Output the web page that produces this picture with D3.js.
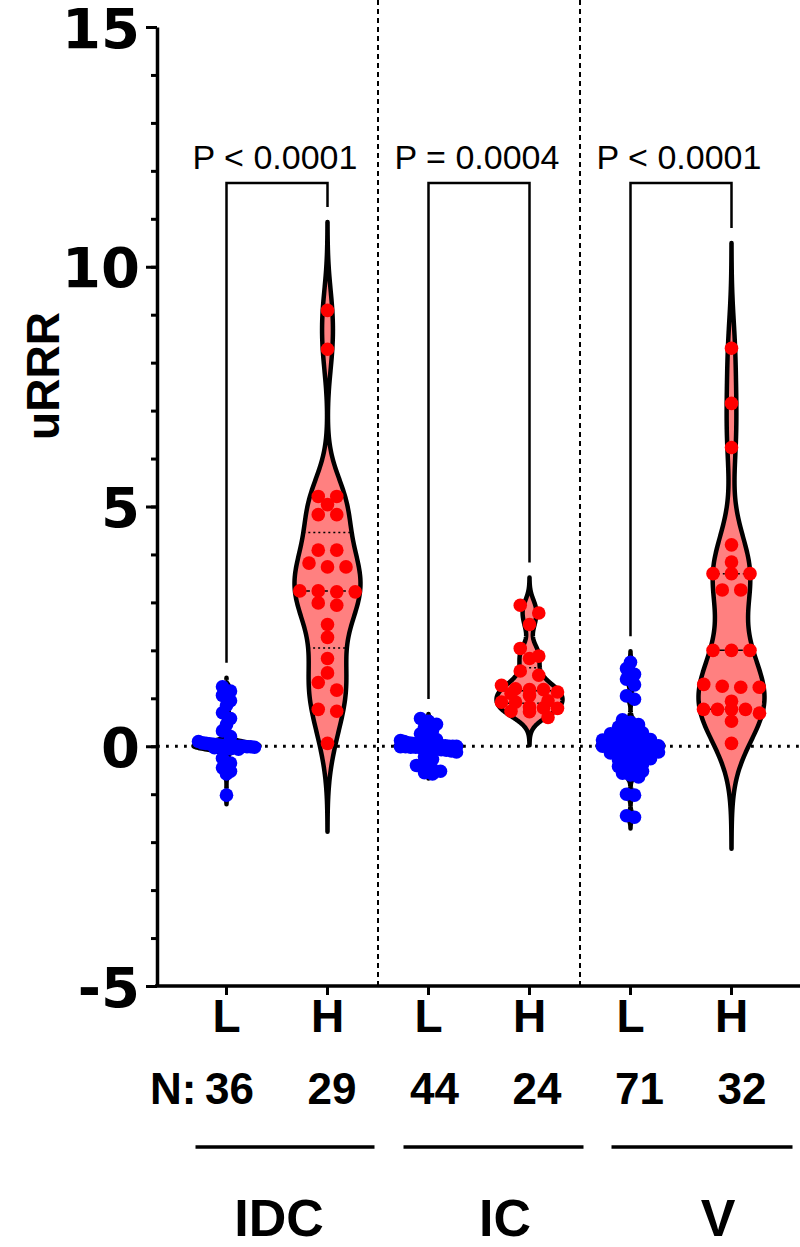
<!DOCTYPE html>
<html>
<head>
<meta charset="utf-8">
<script src="https://cdn.jsdelivr.net/npm/d3@7"></script>
<style>
  body { margin: 0; background: #fff; }
  text { fill: #000; }
</style>
</head>
<body>
<svg id="chart" width="800" height="1247"></svg>
<script>
// categories
const groups = ["IDC", "IC", "V"];
const levels = ["L", "H"];
const nCounts = [36, 29, 44, 24, 71, 32];
const pLabels = ["P < 0.0001", "P = 0.0004", "P < 0.0001"];
const yTicks = [-5, 0, 5, 10, 15];

// values (uRRR)
const idcL = [1.24, 1.15, 1.06, 0.95, 0.85, 0.70, 0.58, 0.45, 0.32, 0.20,
  0.10, 0.07, 0.06, 0.05, 0.04, 0.03, 0.02, 0.02, 0.01, 0.01, 0.00, 0.00, 0.00, -0.01, -0.01, -0.02, -0.03, -0.04, -0.05, -0.06,
  -0.25, -0.35, -0.45, -0.52, -0.58, -1.02];
const idcH = [9.09, 8.28, 5.21, 5.21, 5.04, 4.83, 4.83, 4.09, 4.09, 3.82, 3.74, 3.74, 3.24, 3.24, 3.22, 3.22, 2.99, 2.94,
  2.54, 2.27, 1.83, 1.53, 1.33, 1.17, 0.77, 0.73, 0.06];
const icL = [0.58, 0.52, 0.46, 0.40, 0.33, 0.26,
  0.16, 0.14, 0.12, 0.10, 0.07, 0.06, 0.05, 0.05, 0.04, 0.03, 0.03, 0.02, 0.02, 0.01, 0.01, 0.00, 0.00, 0.00,
  -0.01, -0.01, -0.02, -0.02, -0.03, -0.04, -0.05, -0.06, -0.07, -0.08, -0.10, -0.12,
  -0.22, -0.27, -0.40, -0.44, -0.48, -0.52, -0.55, -0.58];
const icH = [2.94, 2.78, 2.54, 2.04, 1.88, 1.83, 1.57, 1.48, 1.27, 1.20, 1.18, 1.18, 1.13, 1.10, 1.06, 0.95, 0.92, 0.92,
  0.82, 0.80, 0.79, 0.73, 0.72, 0.60];
const vL = [1.75, 1.62, 1.50, 1.40, 1.28, 1.05, 0.98,
  0.55, 0.50, 0.45, 0.40, 0.35,
  0.30, 0.28, 0.26, 0.24, 0.20, 0.18, 0.16, 0.14, 0.13,
  0.10, 0.09, 0.08, 0.07, 0.06, 0.05, 0.05, 0.04,
  0.03, 0.02, 0.02, 0.01, 0.01, 0.00, 0.00, 0.00, 0.00, -0.01, -0.01, -0.02, -0.02, -0.03,
  -0.04, -0.05, -0.06, -0.07, -0.08, -0.09,
  -0.12, -0.14, -0.16, -0.18, -0.22, -0.24, -0.26, -0.28,
  -0.32, -0.35, -0.38, -0.42, -0.45, -0.48, -0.52, -0.56, -0.60, -0.64,
  -1.00, -1.02, -1.45, -1.48];
const vH = [8.30, 7.15, 6.23, 4.20, 3.84, 3.60, 3.60, 3.60, 3.26, 3.26, 2.00, 2.00, 2.00, 1.29, 1.25, 1.23, 1.23, 0.94,
  0.77, 0.77, 0.77, 0.77, 0.69, 0.52, 0.06];

const series = [idcL, idcH, icL, icH, vL, vH];

// 样式
const dotColor = {L: "#0000ff", H: "#ff0000"};
const violinFill = {L: "#8080ff", H: "#ff8080"};
const rowPx = {L: 6, H: 8};      // 散点分行高度
const rowGap = {L: 8, H: 18.5};  // 行内点间距
const fontBold = "'Liberation Sans', Arial, sans-serif";
const fontTick = "'DejaVu Sans', sans-serif";

const svg = d3.select("#chart");
const keys = series.map((s, i) => i);

const x = d3.scaleBand().domain(keys).range([176, 782]);
const cx = i => x(i) + x.bandwidth() / 2;
const y = d3.scaleLinear().domain([-5, 15]).range([986, 27]);

// 虚线分隔组
groups.slice(1).forEach((g, gi) => {
  const xs = x((gi + 1) * 2);
  svg.append("line")
    .attr("x1", xs).attr("x2", xs).attr("y1", 0).attr("y2", y(-5))
    .attr("stroke", "#000").attr("stroke-width", 2).attr("stroke-dasharray", "5,4");
});

// 0 基准点线
svg.append("line")
  .attr("x1", 157).attr("x2", 800).attr("y1", y(0)).attr("y2", y(0))
  .attr("stroke", "#000").attr("stroke-width", 2.8).attr("stroke-dasharray", "2.8,6.2");

// y 轴
const yMinor = svg.append("g").attr("transform", "translate(157,0)")
  .call(d3.axisLeft(y).tickValues(d3.range(-5, 16, 1)).tickSize(6).tickFormat(""));
yMinor.select(".domain").remove();
yMinor.selectAll("line").attr("stroke-width", 3);

const yAxis = svg.append("g").attr("transform", "translate(157,0)")
  .call(d3.axisLeft(y).tickValues(yTicks).tickSize(11).tickSizeOuter(0).tickPadding(6).tickFormat(d => String(d)));
yAxis.select(".domain").attr("stroke-width", 3.5);
yAxis.selectAll("line").attr("stroke-width", 3);
yAxis.selectAll("text")
  .style("font-family", fontTick).style("font-weight", "bold").style("font-size", "56px")
  .attr("dy", "0.36em");

svg.append("text")
  .attr("transform", "translate(59,376) rotate(-90)")
  .attr("text-anchor", "middle")
  .style("font-family", fontBold).style("font-weight", "bold").style("font-size", "46px")
  .text("uRRR");

// x 轴
svg.append("line")
  .attr("x1", 155).attr("x2", 800).attr("y1", y(-5)).attr("y2", y(-5))
  .attr("stroke", "#000").attr("stroke-width", 3.5);
const xAxis = svg.append("g").attr("transform", `translate(0,${y(-5)})`)
  .call(d3.axisBottom(x).tickSize(9).tickSizeOuter(0).tickPadding(4).tickFormat(i => levels[i % 2]));
xAxis.select(".domain").remove();
xAxis.selectAll("line").attr("stroke-width", 3);
xAxis.selectAll("text")
  .style("font-family", fontBold).style("font-weight", "bold").style("font-size", "46px");

// N 行
svg.append("text").attr("x", 150).attr("y", 1104)
  .style("font-family", fontBold).style("font-weight", "bold").style("font-size", "44px")
  .text("N:");
nCounts.forEach((n, i) => {
  svg.append("text").attr("x", cx(i) + 3 + i * 1.5).attr("y", 1104).attr("text-anchor", "middle")
    .style("font-family", fontBold).style("font-weight", "bold").style("font-size", "44px")
    .text(n);
});

// 组下划线和组名
const groupLabelShift = [2, 26, 37];
groups.forEach((g, gi) => {
  const a = cx(gi * 2), b = cx(gi * 2 + 1);
  svg.append("line")
    .attr("x1", a - 31 + gi * 6).attr("x2", b + 47 + gi * 7).attr("y1", 1147).attr("y2", 1147)
    .attr("stroke", "#000").attr("stroke-width", 3.5);
  svg.append("text").attr("x", (a + b) / 2 + groupLabelShift[gi]).attr("y", 1236).attr("text-anchor", "middle")
    .style("font-family", fontBold).style("font-weight", "bold").style("font-size", "52px")
    .text(g);
});

// 核密度
function bandwidth(vals) {
  const s = vals.slice().sort(d3.ascending);
  const sd = d3.deviation(s);
  const iqr = d3.quantile(s, 0.75) - d3.quantile(s, 0.25);
  return 0.66 * Math.min(sd, iqr / 1.34) * Math.pow(s.length, -0.2);
}
function density(vals, h, t) {
  return d3.sum(vals, v => Math.exp(-0.5 * ((t - v) / h) ** 2));
}

const maxHalf = 33;
const violinTop = [];

series.forEach((vals, i) => {
  const lv = levels[i % 2];
  const h = bandwidth(vals);
  const lo = d3.min(vals) - 3 * h, hi = d3.max(vals) + 3 * h;
  violinTop[i] = hi;
  const grid = d3.range(0, 401).map(k => lo + (hi - lo) * k / 400);
  const dens = grid.map(t => [t, density(vals, h, t)]);
  const dMax = d3.max(dens, d => d[1]);
  const w = d3.scaleLinear().domain([0, dMax]).range([0, maxHalf]);

  const area = d3.area()
    .y(d => y(d[0]))
    .x0(d => cx(i) - w(d[1]))
    .x1(d => cx(i) + w(d[1]));
  svg.append("path").datum(dens)
    .attr("d", area)
    .attr("fill", violinFill[lv])
    .attr("stroke", "#000").attr("stroke-width", 4.5).attr("stroke-linejoin", "round");

  // 中位数和四分位线
  const s = vals.slice().sort(d3.ascending);
  [[0.25, "2,3"], [0.5, "6,3"], [0.75, "2,3"]].forEach(([q, dash]) => {
    const qv = d3.quantile(s, q);
    const hw = w(density(vals, h, qv));
    svg.append("line")
      .attr("x1", cx(i) - hw).attr("x2", cx(i) + hw).attr("y1", y(qv)).attr("y2", y(qv))
      .attr("stroke", "#000").attr("stroke-width", 1.5).attr("stroke-dasharray", dash);
  });
});

// 散点: 按值分行, 行内水平展开
function rowLayout(vals, center, px, gap) {
  const sorted = vals.slice().sort(d3.descending);
  const rows = [];
  sorted.forEach(v => {
    const row = rows[rows.length - 1];
    if (row && y(v) - y(row[0]) < px) row.push(v);
    else rows.push([v]);
  });
  const pts = [];
  rows.forEach(row => {
    const n = row.length;
    const sp = n > 1 ? Math.min(gap, 2 * 28 / (n - 1)) : 0;
    row.forEach((v, k) => pts.push({x: center + (k - (n - 1) / 2) * sp, y: y(v)}));
  });
  return pts;
}

series.forEach((vals, i) => {
  const lv = levels[i % 2];
  svg.append("g").selectAll("circle")
    .data(rowLayout(vals, cx(i), rowPx[lv], rowGap[lv]))
    .enter()
    .append("circle")
    .attr("cx", d => d.x).attr("cy", d => d.y).attr("r", 6.8)
    .attr("fill", dotColor[lv]);
});

// P 值括号
groups.forEach((g, gi) => {
  const a = cx(gi * 2), b = cx(gi * 2 + 1);
  const top = 183;
  const endA = y(violinTop[gi * 2]) - 15, endB = y(violinTop[gi * 2 + 1]) - 15;
  svg.append("path")
    .attr("d", `M${a},${endA}V${top}H${b}V${endB}`)
    .attr("fill", "none").attr("stroke", "#000").attr("stroke-width", 2.5);
  svg.append("text").attr("x", (a + b) / 2 - 2).attr("y", 169).attr("text-anchor", "middle")
    .style("font-family", fontBold).style("font-size", "34px")
    .text(pLabels[gi]);
});
</script>
</body>
</html>
